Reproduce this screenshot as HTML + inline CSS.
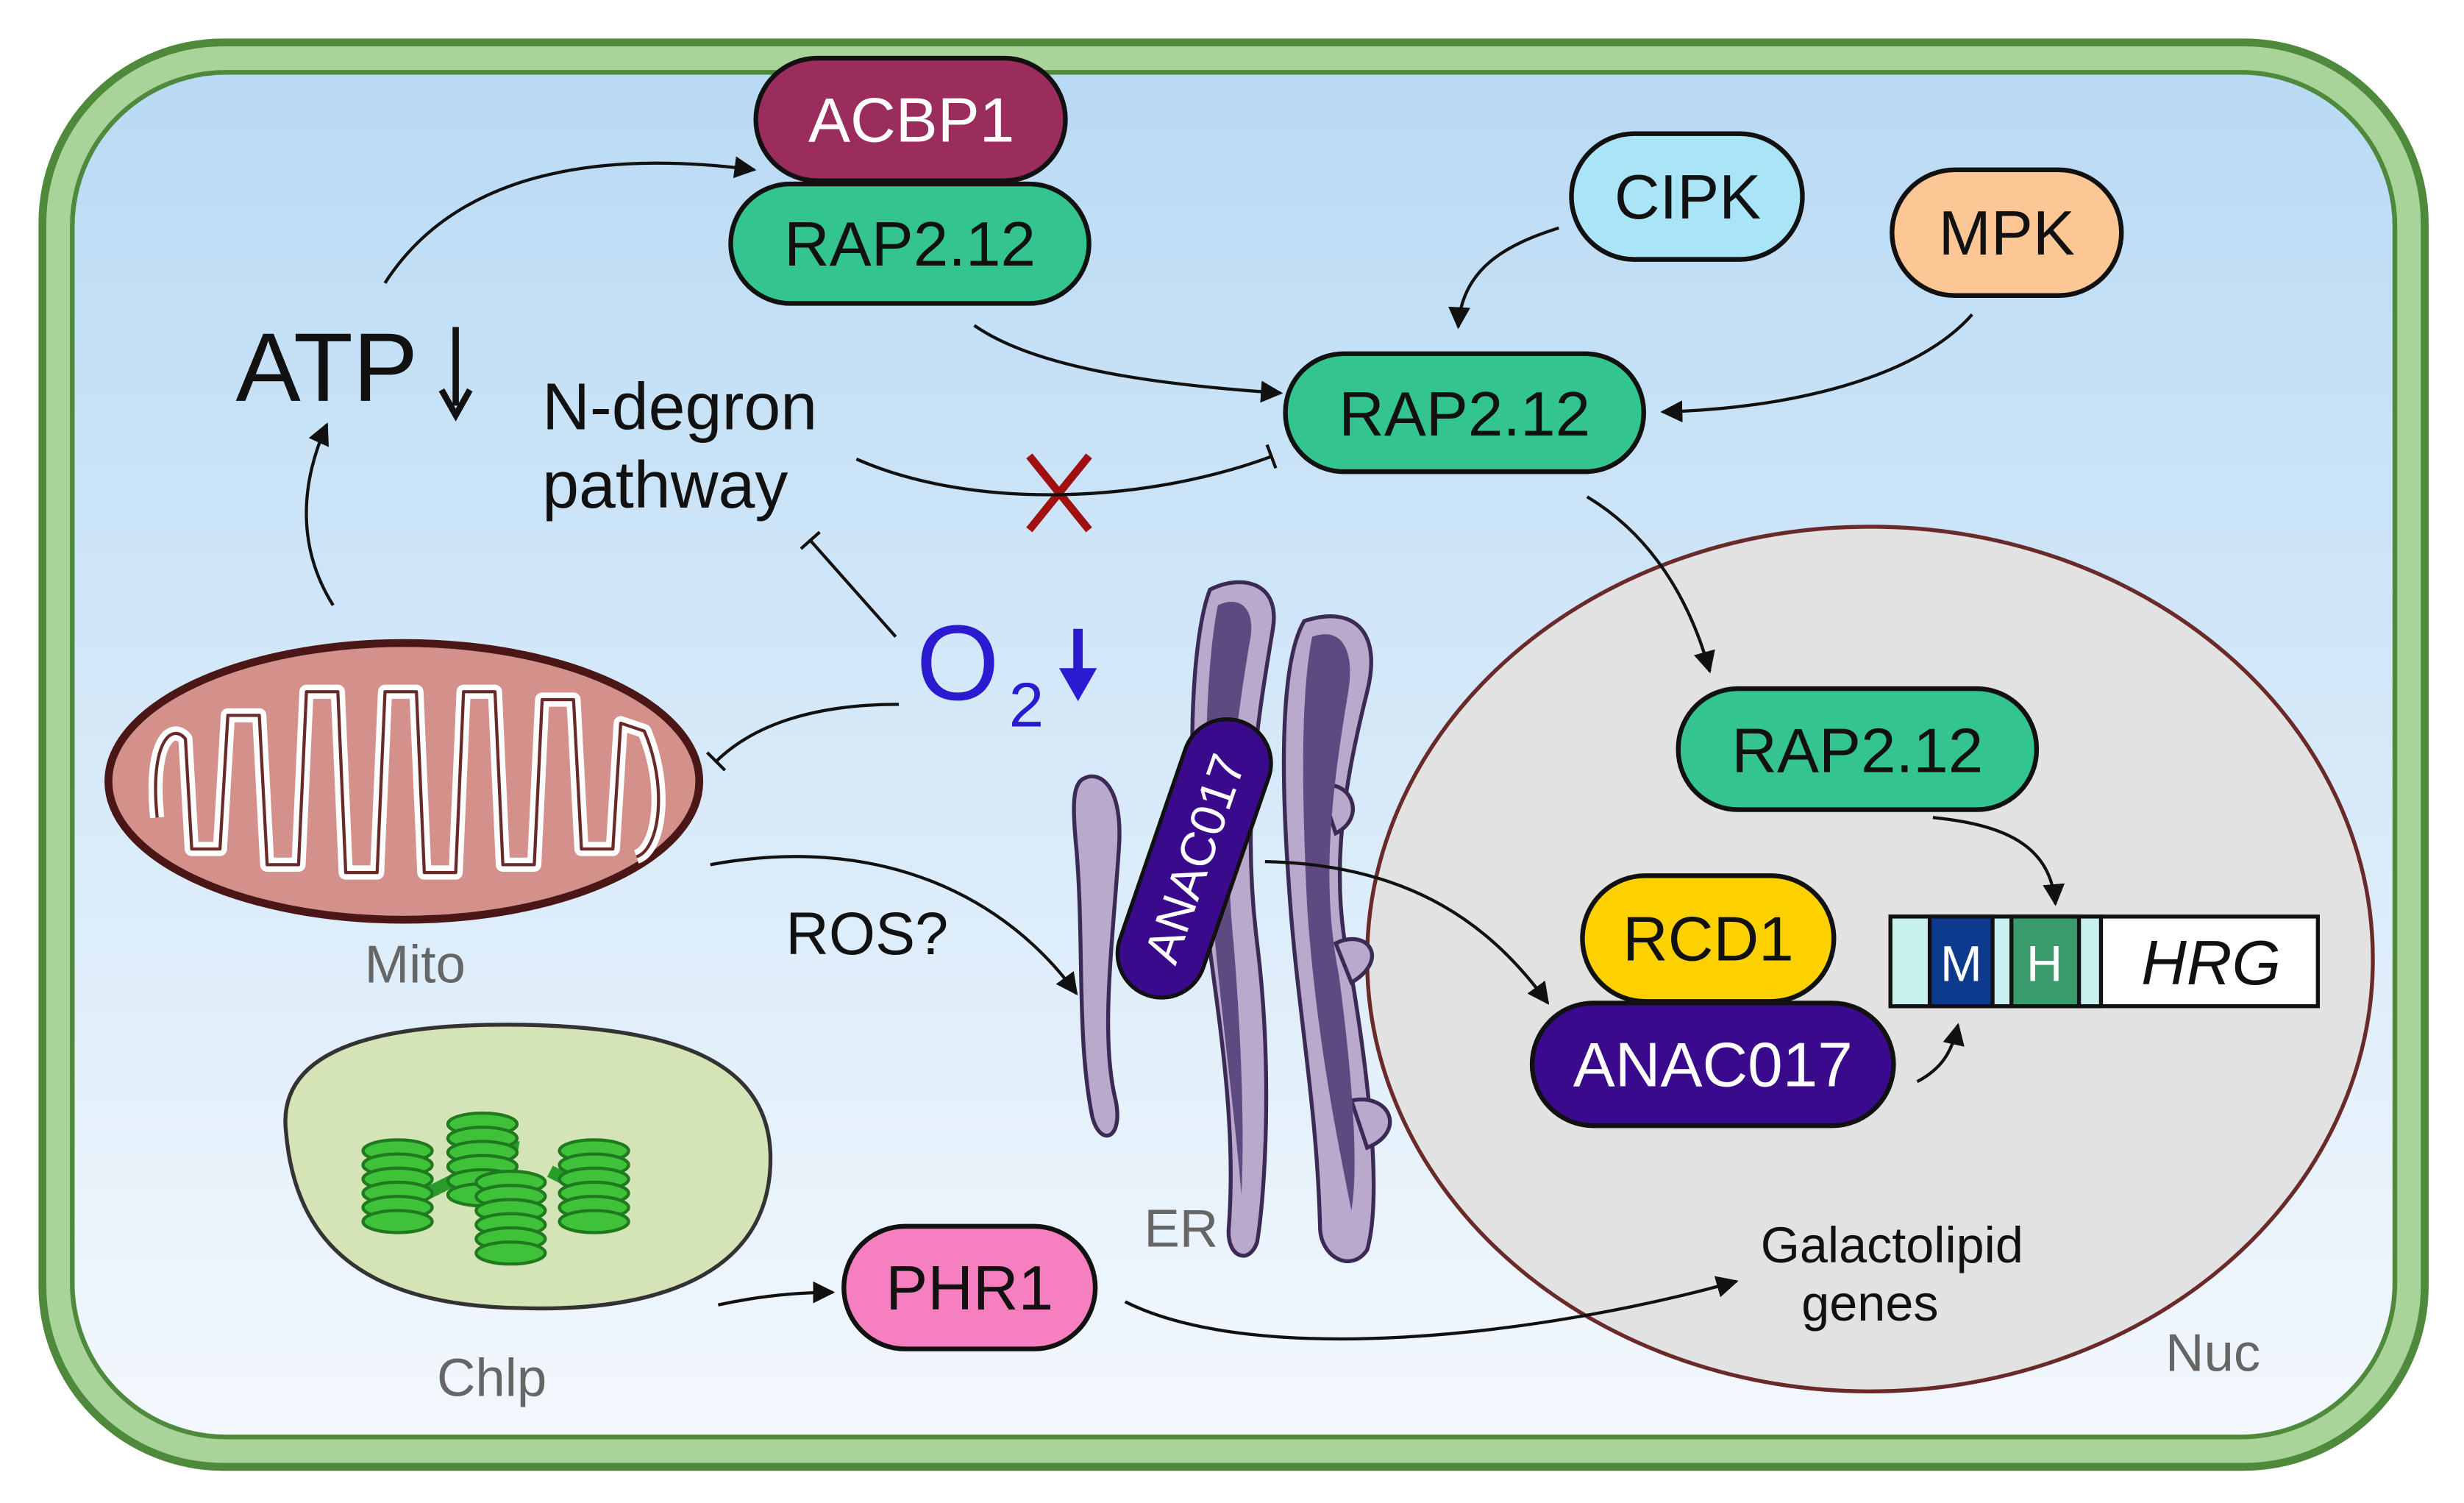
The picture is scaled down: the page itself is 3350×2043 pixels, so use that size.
<!DOCTYPE html>
<html><head><meta charset="utf-8"><style>
html,body{margin:0;padding:0;background:#fff;}
svg{display:block;}
text{font-family:"Liberation Sans",sans-serif;}
</style></head><body>
<svg width="3350" height="2043" viewBox="0 0 1568 956" preserveAspectRatio="none" xmlns="http://www.w3.org/2000/svg">
<defs>
<linearGradient id="bg" x1="0" y1="0" x2="0" y2="1">
<stop offset="0" stop-color="#b9daf4"/><stop offset="1" stop-color="#f3f8fd"/></linearGradient>
<marker id="ar2" viewBox="0 0 10 10" refX="9" refY="5" markerWidth="14" markerHeight="14" orient="auto" markerUnits="userSpaceOnUse">
<path d="M0,0 L10,5 L0,10 z" fill="#111"/></marker>
<marker id="tb" viewBox="0 0 4 16" refX="2" refY="8" markerWidth="4" markerHeight="16" orient="auto" markerUnits="userSpaceOnUse">
<rect x="0" y="0" width="2" height="16" fill="#111"/></marker>
<g id="stk" fill="#3fc23a" stroke="#1f7a1f" stroke-width="2"><ellipse cx="0" cy="0" rx="22" ry="7"/><ellipse cx="0" cy="9" rx="22" ry="7"/><ellipse cx="0" cy="18" rx="22" ry="7"/><ellipse cx="0" cy="27" rx="22" ry="7"/><ellipse cx="0" cy="36" rx="22" ry="7"/><ellipse cx="0" cy="45" rx="22" ry="7"/></g>
</defs>
<rect width="1568" height="956" fill="#fff"/>
<rect x="27" y="27" width="1516" height="906" rx="115" fill="#a8d49a" stroke="#4f8a3c" stroke-width="5"/>
<rect x="46" y="46" width="1478" height="868" rx="98" fill="url(#bg)" stroke="#4f8a3c" stroke-width="3"/>
<ellipse cx="1190" cy="610" rx="320" ry="275" fill="#e2e2e2" stroke="#6b2a2a" stroke-width="2.5"/>
<path d="M182,720 C175,660 260,650 340,652 C440,655 495,680 490,745 C485,810 420,835 330,832 C230,830 188,790 182,720 Z" fill="#d5e4b6" stroke="#333" stroke-width="2.5"/>
<path d="M270,760 L310,740 M350,745 L370,755 M300,725 L330,730" stroke="#2a9a2a" stroke-width="8"/>
<use href="#stk" x="253" y="732"/>
<use href="#stk" x="307" y="715"/>
<use href="#stk" x="378" y="732"/>
<use href="#stk" x="325" y="752"/>
<ellipse cx="257" cy="497" rx="188" ry="88" fill="#d4908a" stroke="#4a1616" stroke-width="5"/>
<path d="M100,520 C95,470 110,460 118,470 L122,540 L140,540 L145,455 L165,455 L170,550 L190,550 L195,440 L215,440 L220,555 L240,555 L245,440 L265,440 L270,555 L290,555 L295,440 L315,440 L320,550 L340,550 L345,445 L365,445 L370,540 L390,540 L395,460 L410,465 C425,500 420,540 405,545" fill="none" stroke="#fff" stroke-width="9" stroke-linejoin="round"/>
<path d="M100,520 C95,470 110,460 118,470 L122,540 L140,540 L145,455 L165,455 L170,550 L190,550 L195,440 L215,440 L220,555 L240,555 L245,440 L265,440 L270,555 L290,555 L295,440 L315,440 L320,550 L340,550 L345,445 L365,445 L370,540 L390,540 L395,460 L410,465 C425,500 420,540 405,545" fill="none" stroke="#6a2a2a" stroke-width="2" stroke-linejoin="round"/>
<g fill="#b9a9cc" stroke="#3a2a55" stroke-width="2.5">
<path d="M690,495 C700,490 715,500 712,540 C708,600 700,660 710,700 C715,725 700,730 695,710 C685,660 690,600 685,540 C682,510 683,498 690,495 Z"/>
<path d="M770,375 C790,365 815,370 810,400 C800,460 790,520 800,600 C810,680 805,760 800,790 C795,805 780,800 782,780 C788,700 770,620 762,540 C755,470 760,400 770,375 Z"/>
<path d="M830,395 C860,385 880,400 870,440 C855,500 845,560 860,620 C870,680 880,760 870,795 C860,810 840,800 840,780 C838,700 825,640 820,560 C815,490 815,420 830,395 Z"/>
<path d="M840,500 C860,495 870,520 850,530 Z M850,600 C870,590 885,610 860,625 Z M860,700 C885,695 895,720 870,730 Z"/>
</g>
<g fill="#5e4a80">
<path d="M775,385 C790,378 800,388 795,410 C785,470 778,530 785,600 C790,660 792,720 790,760 C785,700 775,630 770,560 C765,490 768,420 775,385 Z"/>
<path d="M835,405 C855,398 862,415 858,440 C848,500 840,560 852,620 C860,680 865,740 860,770 C850,720 838,660 832,580 C828,500 828,440 835,405 Z"/>
</g>
<g transform="translate(760,546) rotate(-71)">
<rect x="-92" y="-28" width="184" height="56" rx="28" fill="#3a0a8c" stroke="#111" stroke-width="2.5"/>
<text x="0" y="11" font-size="31" fill="#fff" text-anchor="middle">ANAC017</text>
</g>
<g stroke="#111" stroke-width="3">
<rect x="481" y="37" width="197" height="78" rx="39" fill="#9b2d5c"/>
<rect x="465" y="117" width="228" height="76" rx="38" fill="#33c48f"/>
<rect x="1000" y="85" width="147" height="80" rx="40" fill="#a9e4f7"/>
<rect x="1204" y="108" width="146" height="80" rx="40" fill="#fdc795"/>
<rect x="818" y="225" width="228" height="75" rx="37" fill="#33c48f"/>
<rect x="1068" y="438" width="228" height="77" rx="38" fill="#33c48f"/>
<rect x="1007" y="557" width="160" height="80" rx="40" fill="#fdd000"/>
<rect x="975" y="638" width="230" height="78" rx="39" fill="#3a0a8c"/>
<rect x="537" y="780" width="160" height="78" rx="39" fill="#f57fbf"/>
</g>
<g font-size="40" text-anchor="middle" fill="#111">
<text x="580" y="90" fill="#fff">ACBP1</text>
<text x="579" y="169">RAP2.12</text>
<text x="1074" y="139">CIPK</text>
<text x="1277" y="162">MPK</text>
<text x="932" y="277">RAP2.12</text>
<text x="1182" y="491">RAP2.12</text>
<text x="1087" y="611">RCD1</text>
<text x="1090" y="691" fill="#fff">ANAC017</text>
<text x="617" y="833">PHR1</text>
</g>
<g stroke="#111" stroke-width="2.5">
<rect x="1203" y="583" width="272" height="57" fill="#fff"/>
<rect x="1203" y="583" width="134" height="57" fill="#c8f0ee"/>
<rect x="1228" y="583" width="40" height="57" fill="#0d3a8c"/>
<rect x="1280" y="583" width="43" height="57" fill="#3a9a6c"/>
</g>
<text x="1248" y="624" font-size="32" fill="#fff" text-anchor="middle">M</text>
<text x="1301" y="624" font-size="32" fill="#fff" text-anchor="middle">H</text>
<text x="1407" y="626" font-size="40" font-style="italic" text-anchor="middle" fill="#111">HRG</text>
<text x="150" y="255" font-size="62" fill="#111">ATP</text>
<path d="M290,208 L290,258" stroke="#111" stroke-width="4"/><path d="M281,248 L290,264 L299,248" fill="none" stroke="#111" stroke-width="4"/>
<text x="345" y="273" font-size="42" fill="#111">N-degron</text>
<text x="345" y="323" font-size="42" fill="#111">pathway</text>
<text x="583" y="445" font-size="68" fill="#2a1ad0">O</text>
<text x="642" y="462" font-size="40" fill="#2a1ad0">2</text>
<path d="M686,400 L686,438" stroke="#2a1ad0" stroke-width="6"/><path d="M674,425 L686,446 L698,425 Z" fill="#2a1ad0"/>
<text x="500" y="607" font-size="38" fill="#111">ROS?</text>
<text x="232" y="625" font-size="34" fill="#666">Mito</text>
<text x="728" y="793" font-size="34" fill="#666">ER</text>
<text x="278" y="888" font-size="34" fill="#666">Chlp</text>
<text x="1378" y="872" font-size="34" fill="#666">Nuc</text>
<text x="1204" y="803" font-size="32" fill="#111" text-anchor="middle">Galactolipid</text>
<text x="1190" y="840" font-size="32" fill="#111" text-anchor="middle">genes</text>
<path d="M655,290 L693,337 M693,290 L655,337" stroke="#a01010" stroke-width="5"/>
<g fill="none" stroke="#111" stroke-width="2">
<path d="M245,180 C290,110 380,95 480,108" marker-end="url(#ar2)"/>
<path d="M212,385 C190,350 190,310 208,270" marker-end="url(#ar2)"/>
<path d="M620,207 C660,235 740,245 815,250" marker-end="url(#ar2)"/>
<path d="M992,145 C960,155 930,170 928,208" marker-end="url(#ar2)"/>
<path d="M1255,200 C1220,240 1140,260 1058,262" marker-end="url(#ar2)"/>
<path d="M545,292 C620,325 730,320 810,290" marker-end="url(#tb)"/>
<path d="M570,405 L515,343" marker-end="url(#tb)"/>
<path d="M572,448 C520,448 480,460 455,485" marker-end="url(#tb)"/>
<path d="M1010,316 C1050,340 1075,380 1088,427" marker-end="url(#ar2)"/>
<path d="M1230,520 C1280,525 1305,540 1308,575" marker-end="url(#ar2)"/>
<path d="M452,550 C560,530 640,570 685,632" marker-end="url(#ar2)"/>
<path d="M805,548 C900,550 950,590 985,638" marker-end="url(#ar2)"/>
<path d="M1220,688 C1235,680 1242,670 1246,652" marker-end="url(#ar2)"/>
<path d="M457,830 C480,825 505,822 530,822" marker-end="url(#ar2)"/>
<path d="M716,828 C800,870 980,850 1105,815" marker-end="url(#ar2)"/>
</g>
</svg>
</body></html>
